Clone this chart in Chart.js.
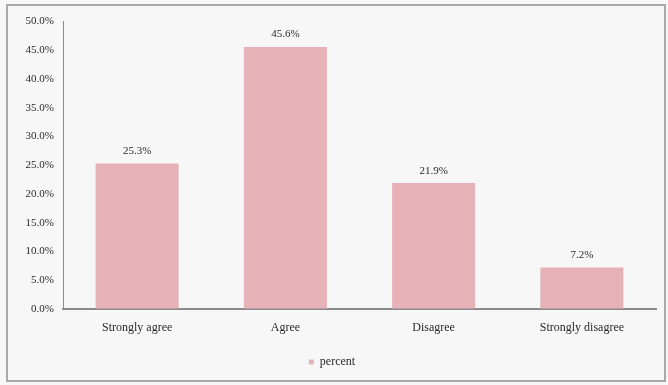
<!DOCTYPE html>
<html>
<head>
<meta charset="utf-8">
<script src="https://cdn.jsdelivr.net/npm/chart.js@4"></script>
<style>
  html, body { margin: 0; padding: 0; background: #f7f7f7; }
  #frame {
    position: absolute; left: 6px; top: 4px;
    width: 656px; height: 374px;
    border: 2px solid #a9a9a9;
    background: #f7f7f7;
  }
  canvas { display: block; }
</style>
</head>
<body>
<div id="frame"><canvas id="chart" width="656" height="374"></canvas></div>
<script>
// Survey responses
const categories = ["Strongly agree", "Agree", "Disagree", "Strongly disagree"];
const percent = [25.3, 45.6, 21.9, 7.2];
const yTicks = [0, 5, 10, 15, 20, 25, 30, 35, 40, 45, 50];

const serif = "'Liberation Serif', 'DejaVu Serif', serif";

// Writes each bar's value just above it
const valueLabels = {
    id: "valueLabels",
    afterDatasetsDraw(chart) {
        const ctx = chart.ctx;
        const meta = chart.getDatasetMeta(0);
        ctx.save();
        ctx.font = "11px " + serif;
        ctx.fillStyle = "#2a2a2a";
        ctx.textAlign = "center";
        ctx.textBaseline = "bottom";
        meta.data.forEach((bar, i) => {
            ctx.fillText(percent[i].toFixed(1) + "%", bar.x, bar.y - 7);
        });
        ctx.restore();
    }
};

const ctx = document.getElementById("chart").getContext("2d");
new Chart(ctx, {
    type: "bar",
    data: {
        labels: categories,
        datasets: [{
            label: "percent",
            data: percent,
            backgroundColor: "#e6b2b7",
            borderWidth: 0,
            categoryPercentage: 1.0,
            barPercentage: 0.56
        }]
    },
    options: {
        responsive: false,
        animation: false,
        layout: { padding: { left: 0, right: 8, top: 12, bottom: 2 } },
        scales: {
            x: {
                grid: { color: "transparent", drawTicks: false },
                border: { display: true, color: "#8a8a8a", width: 2 },
                ticks: { color: "#2a2a2a", font: { family: serif, size: 12 }, padding: 12 },
                afterFit(scale) { scale.height = 40; }
            },
            y: {
                min: 0,
                max: 50,
                afterBuildTicks(scale) { scale.ticks = yTicks.map(v => ({ value: v })); },
                grid: { color: "transparent", drawTicks: false },
                border: { display: true, color: "#8a8a8a", width: 1 },
                ticks: {
                    color: "#2a2a2a",
                    font: { family: serif, size: 11 },
                    padding: 9,
                    callback: v => v.toFixed(1) + "%"
                },
                afterFit(scale) { scale.width = 55; }
            }
        },
        plugins: {
            legend: {
                position: "bottom",
                labels: {
                    boxWidth: 5,
                    boxHeight: 5,
                    color: "#2a2a2a",
                    font: { family: serif, size: 12 },
                    padding: 7
                }
            },
            tooltip: { enabled: false }
        }
    },
    plugins: [valueLabels]
});
</script>
</body>
</html>
